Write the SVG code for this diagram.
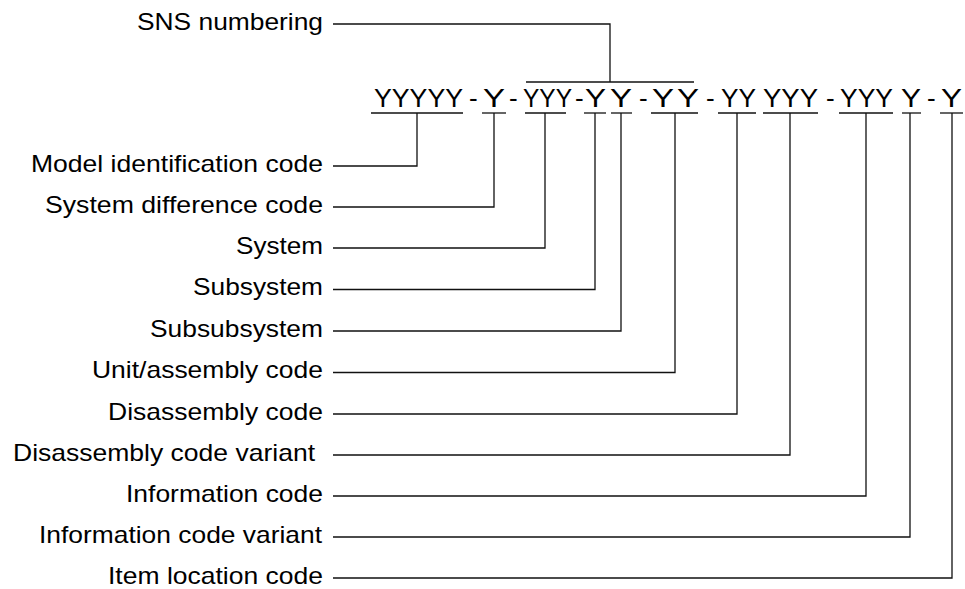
<svg xmlns="http://www.w3.org/2000/svg" width="965" height="589" viewBox="0 0 965 589">
<style>
  text { font-family: "Liberation Sans", Arial, sans-serif; fill: #000; }
  .lbl { font-size: 24px; }
  .code { font-size: 26px; }
  .ln { fill: none; stroke: #111; stroke-width: 1.3; }
</style>
<rect width="965" height="589" fill="#fff"/>

<g id="sns-label"><text class="lbl" x="137" y="30" textLength="186" lengthAdjust="spacingAndGlyphs">SNS numbering</text></g>

<g id="code-string">
  <text class="code" x="374" y="107" textLength="89" lengthAdjust="spacingAndGlyphs">YYYYY</text>
  <text class="code" x="469" y="107">-</text>
  <text class="code" x="483" y="107" textLength="22" lengthAdjust="spacingAndGlyphs">Y</text>
  <text class="code" x="509" y="107">-</text>
  <text class="code" x="523" y="107" textLength="49" lengthAdjust="spacingAndGlyphs">YYY</text>
  <text class="code" x="575" y="107">-</text>
  <text class="code" x="585" y="107" textLength="21" lengthAdjust="spacingAndGlyphs">Y</text>
  <text class="code" x="610" y="107" textLength="22" lengthAdjust="spacingAndGlyphs">Y</text>
  <text class="code" x="639" y="107">-</text>
  <text class="code" x="652" y="107" textLength="22" lengthAdjust="spacingAndGlyphs">Y</text>
  <text class="code" x="677" y="107" textLength="22" lengthAdjust="spacingAndGlyphs">Y</text>
  <text class="code" x="706" y="107">-</text>
  <text class="code" x="721" y="107" textLength="35" lengthAdjust="spacingAndGlyphs">YY</text>
  <text class="code" x="763" y="107" textLength="55" lengthAdjust="spacingAndGlyphs">YYY</text>
  <text class="code" x="826" y="107">-</text>
  <text class="code" x="840" y="107" textLength="53" lengthAdjust="spacingAndGlyphs">YYY</text>
  <text class="code" x="901" y="107" textLength="20" lengthAdjust="spacingAndGlyphs">Y</text>
  <text class="code" x="927" y="107">-</text>
  <text class="code" x="941" y="107" textLength="21" lengthAdjust="spacingAndGlyphs">Y</text>
</g>

<g id="label-model"><text class="lbl" x="31" y="172" textLength="292" lengthAdjust="spacingAndGlyphs">Model identification code</text></g>
<g id="label-sysdiff"><text class="lbl" x="45" y="213" textLength="278" lengthAdjust="spacingAndGlyphs">System difference code</text></g>
<g id="label-system"><text class="lbl" x="236" y="254" textLength="87" lengthAdjust="spacingAndGlyphs">System</text></g>
<g id="label-subsystem"><text class="lbl" x="193" y="295" textLength="130" lengthAdjust="spacingAndGlyphs">Subsystem</text></g>
<g id="label-subsubsystem"><text class="lbl" x="150" y="337" textLength="173" lengthAdjust="spacingAndGlyphs">Subsubsystem</text></g>
<g id="label-unit"><text class="lbl" x="92" y="378" textLength="231" lengthAdjust="spacingAndGlyphs">Unit/assembly code</text></g>
<g id="label-disassembly"><text class="lbl" x="108" y="420" textLength="215" lengthAdjust="spacingAndGlyphs">Disassembly code</text></g>
<g id="label-disvariant"><text class="lbl" x="13" y="461" textLength="302" lengthAdjust="spacingAndGlyphs">Disassembly code variant</text></g>
<g id="label-info"><text class="lbl" x="126" y="502" textLength="197" lengthAdjust="spacingAndGlyphs">Information code</text></g>
<g id="label-infovariant"><text class="lbl" x="39" y="543" textLength="283" lengthAdjust="spacingAndGlyphs">Information code variant</text></g>
<g id="label-itemloc"><text class="lbl" x="108" y="584" textLength="215" lengthAdjust="spacingAndGlyphs">Item location code</text></g>

<g id="connectors" class="ln">
  <path class="ln" d="M333 24 H610 V82"/>
  <path class="ln" d="M526 82 H694"/>
  <path class="ln" d="M371 113 H463"/>
  <path class="ln" d="M482 113 H506"/>
  <path class="ln" d="M525 113 H566"/>
  <path class="ln" d="M584 113 H606"/>
  <path class="ln" d="M611 113 H632"/>
  <path class="ln" d="M651 113 H698"/>
  <path class="ln" d="M718 113 H756"/>
  <path class="ln" d="M763 113 H818"/>
  <path class="ln" d="M839 113 H893"/>
  <path class="ln" d="M902 113 H921"/>
  <path class="ln" d="M940 113 H963"/>
  <path class="ln" d="M333 166 H417 V113"/>
  <path class="ln" d="M333 207 H494 V113"/>
  <path class="ln" d="M333 248 H545 V113"/>
  <path class="ln" d="M333 289.5 H595 V113"/>
  <path class="ln" d="M333 331 H621 V113"/>
  <path class="ln" d="M333 372.5 H675 V113"/>
  <path class="ln" d="M333 414 H737 V113"/>
  <path class="ln" d="M333 455 H790 V113"/>
  <path class="ln" d="M333 496 H866 V113"/>
  <path class="ln" d="M333 537 H910 V113"/>
  <path class="ln" d="M333 578 H952 V113"/>
</g>
</svg>
